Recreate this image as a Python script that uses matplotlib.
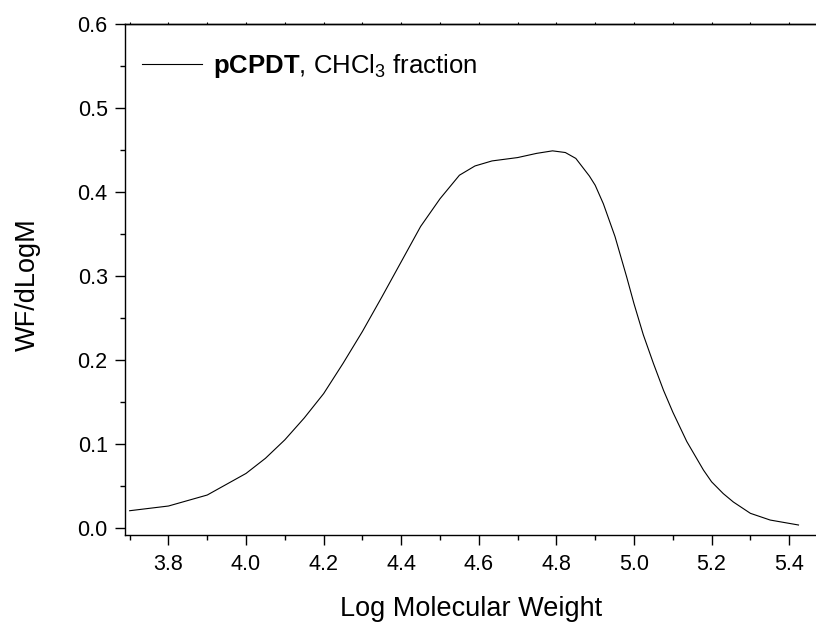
import numpy as np
import matplotlib
matplotlib.use("Agg")
import matplotlib.pyplot as plt
from matplotlib.ticker import MultipleLocator

plt.rcParams['font.family'] = ['Liberation Sans', 'DejaVu Sans']
plt.rcParams['mathtext.fontset'] = 'custom'
plt.rcParams['mathtext.rm'] = 'Liberation Sans'
plt.rcParams['mathtext.bf'] = 'Liberation Sans:bold'

# molecular weight distribution
log_mw = [3.70, 3.80, 3.90, 4.00, 4.05, 4.10, 4.15, 4.20, 4.25, 4.30, 4.35,
          4.40, 4.45, 4.50, 4.55, 4.59, 4.634, 4.70, 4.749, 4.79, 4.823,
          4.85, 4.87, 4.885, 4.90, 4.921, 4.951, 4.981, 5.00, 5.024, 5.05,
          5.076, 5.10, 5.136, 5.179, 5.20, 5.23, 5.256, 5.30, 5.351, 5.424]
wf = [0.0206, 0.0262, 0.0393, 0.065, 0.083, 0.105, 0.131, 0.160, 0.196,
      0.234, 0.275, 0.317, 0.359, 0.392, 0.420, 0.431, 0.437, 0.441, 0.446,
      0.449, 0.447, 0.440, 0.428, 0.419, 0.408, 0.386, 0.347, 0.299, 0.267,
      0.230, 0.196, 0.164, 0.138, 0.103, 0.069, 0.055, 0.041, 0.031, 0.0175,
      0.0095, 0.0036]

legend_label = r"$\mathbf{pCPDT}$, CHCl$_3$ fraction"

fig = plt.figure(figsize=(8.16, 6.26), dpi=100)
# right edge of the frame runs past the picture, as in the original
ax = fig.add_axes([125 / 816, 1 - 535 / 626, 722 / 816, 511 / 626])

ax.plot(log_mw, wf, color='black', lw=0.8, label=legend_label)

ax.set_xlim(3.688, 5.549)
ax.set_ylim(-0.0083, 0.6)
ax.xaxis.set_major_locator(MultipleLocator(0.2))
ax.xaxis.set_minor_locator(MultipleLocator(0.1))
ax.yaxis.set_major_locator(MultipleLocator(0.1))
ax.yaxis.set_minor_locator(MultipleLocator(0.05))
ax.xaxis.set_major_formatter(plt.FormatStrFormatter('%.1f'))
ax.yaxis.set_major_formatter(plt.FormatStrFormatter('%.1f'))

ax.tick_params(which='major', direction='out', length=7.5, width=1.0,
               labelsize=15.5)
ax.tick_params(axis='x', which='major', pad=6)
ax.tick_params(axis='y', which='major', pad=5)
ax.tick_params(which='minor', direction='out', length=3.8, width=1.0)
for s in ax.spines.values():
    s.set_linewidth(1.0)

top = ax.secondary_xaxis('top')
top.set_xticks(np.arange(3.7, 5.55, 0.1))
top.tick_params(direction='out', length=1.5, width=0.8, labeltop=False)
top.spines['top'].set_linewidth(1.0)

ax.set_xlabel('Log Molecular Weight', fontsize=19.5)
ax.set_ylabel('WF/dLogM', fontsize=19.5)
ax.xaxis.set_label_coords(0.48, -0.119)
ax.yaxis.set_label_coords(-0.117, 0.489)

leg = ax.legend(loc='upper left', bbox_to_anchor=(17 / 722, 0.945),
                frameon=False, fontsize=18.5, handlelength=2.35,
                handletextpad=0.4, borderpad=0, borderaxespad=0)

fig.savefig('out.png', dpi=100)
